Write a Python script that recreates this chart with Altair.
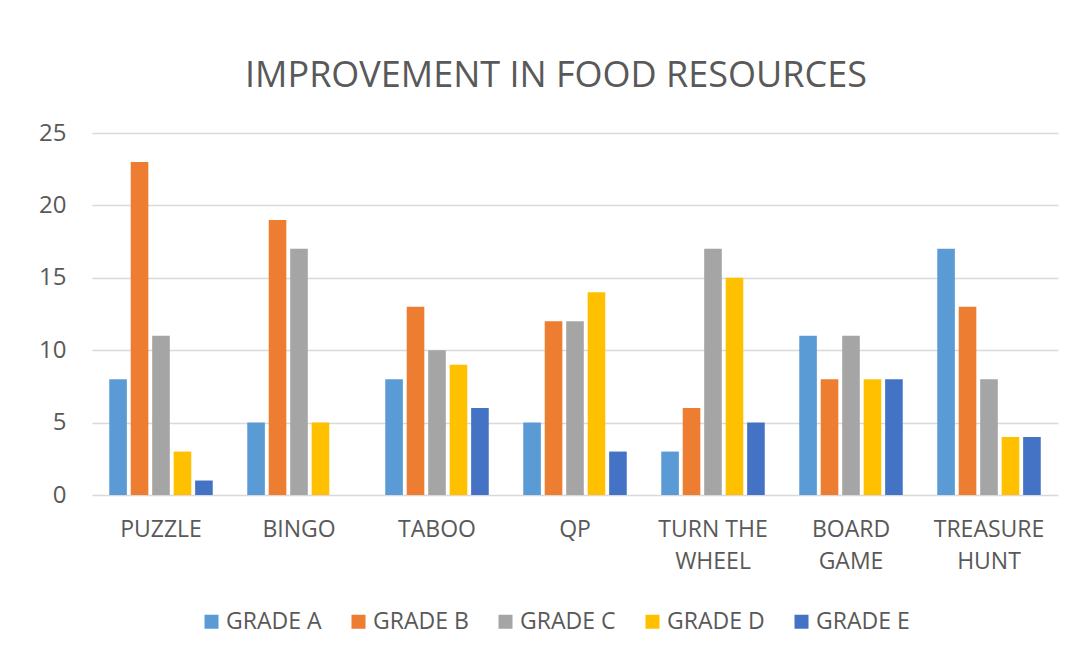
import altair as alt
import pandas as pd

categories = ["PUZZLE", "BINGO", "TABOO", "QP", "TURN THE WHEEL", "BOARD GAME", "TREASURE HUNT"]
grades = ["GRADE A", "GRADE B", "GRADE C", "GRADE D", "GRADE E"]
grade_a = [8, 5, 8, 5, 3, 11, 17]
grade_b = [23, 19, 13, 12, 6, 8, 13]
grade_c = [11, 17, 10, 12, 17, 11, 8]
grade_d = [3, 5, 9, 14, 15, 8, 4]
grade_e = [1, 0, 6, 3, 5, 8, 4]
colors = ["#5B9BD5", "#ED7D31", "#A5A5A5", "#FFC000", "#4472C4"]
y_ticks = [0, 5, 10, 15, 20, 25]

series = [grade_a, grade_b, grade_c, grade_d, grade_e]
rows = []
for g, vals in zip(grades, series):
    for c, v in zip(categories, vals):
        rows.append({"activity": c, "grade": g, "value": v})
df = pd.DataFrame(rows)

FONT = "Open Sans"
TXT = "#595959"

label_expr = (
    "datum.label == 'TURN THE WHEEL' ? ['TURN THE', 'WHEEL'] : "
    "datum.label == 'BOARD GAME' ? ['BOARD', 'GAME'] : "
    "datum.label == 'TREASURE HUNT' ? ['TREASURE', 'HUNT'] : datum.label"
)

chart = alt.Chart(df).mark_bar().encode(
    x=alt.X(
        "activity:N", sort=categories,
        scale=alt.Scale(paddingInner=0.25, paddingOuter=0.125),
        axis=alt.Axis(title=None, labelAngle=0, domain=False, ticks=False,
                      labelPadding=23, labelFontSize=23, labelFont=FONT,
                      labelColor=TXT, labelExpr=label_expr, labelLineHeight=32,
                      labelBaseline="top"),
    ),
    xOffset=alt.XOffset("grade:N", sort=grades,
                        scale=alt.Scale(paddingInner=0.18, paddingOuter=0)),
    y=alt.Y(
        "value:Q", scale=alt.Scale(domain=[0, 25]),
        axis=alt.Axis(values=y_ticks, title=None, domain=False, ticks=False,
                      grid=True, gridColor="#D9D9D9", gridWidth=1.5,
                      labelPadding=26, labelFontSize=24, labelFont=FONT,
                      labelColor=TXT),
    ),
    color=alt.Color(
        "grade:N", sort=grades,
        scale=alt.Scale(domain=grades, range=colors),
        legend=alt.Legend(title=None, orient="none", legendX=108, legendY=477,
                          direction="horizontal", symbolType="square",
                          symbolSize=196, symbolStrokeWidth=0, labelFontSize=23,
                          labelFont=FONT, labelColor=TXT, labelOffset=3,
                          columnPadding=25, labelLimit=300, padding=0),
    ),
).properties(
    width=966, height=362,
    title=alt.TitleParams("IMPROVEMENT IN FOOD RESOURCES", fontSize=36,
                          font=FONT, fontWeight="normal", color=TXT,
                          anchor="middle", frame="group", offset=26, dx=-19),
    autosize="none",
    padding={"left": 84, "top": 125, "right": 26, "bottom": 166},
).configure_view(stroke=None)

chart.save("out.html", embed_options={"renderer": "svg", "actions": False})
